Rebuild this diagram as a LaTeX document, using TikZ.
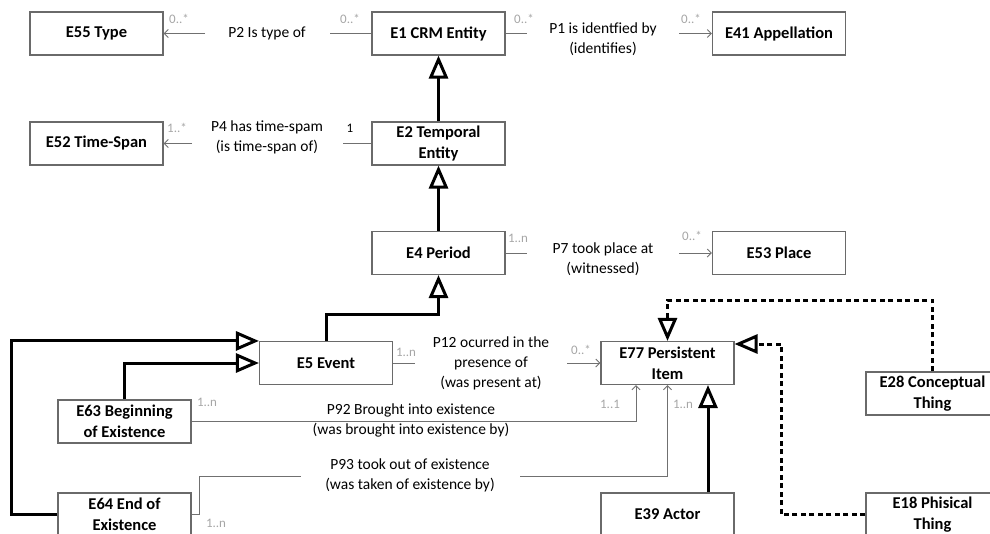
\documentclass[tikz,border=0pt]{standalone}
\usepackage{fontspec}
\setmainfont{Carlito}
\usetikzlibrary{arrows.meta}
\definecolor{boxgray}{HTML}{6A6A6A}
\definecolor{linegray}{HTML}{707070}
\definecolor{multgray}{HTML}{A6A6A6}
\tikzset{
  entity/.style={draw=boxgray, line width=1.1pt, fill=white, minimum width=133pt,
    minimum height=43pt, align=center, inner sep=1pt,
    font=\fontsize{16.5}{21}\selectfont\bfseries},
  rel/.style={align=center, inner sep=0pt, font=\fontsize{15.5}{20}\selectfont},
  mult/.style={text=multgray, inner sep=0pt, font=\fontsize{13}{14}\selectfont},
  assoc/.style={draw=linegray, line width=1pt},
  navarrow/.style={assoc, -{Straight Barb[length=4pt, width=8pt]}},
  isa/.style={line width=3pt, -{Triangle[open, length=23pt, width=19pt, fill=white]}},
  isadash/.style={isa, dash pattern=on 5pt off 3.5pt},
}
\begin{document}
\begin{tikzpicture}[x=1pt, y=-1pt]
\useasboundingbox (0,0) rectangle (990,533);
\clip (0,0) rectangle (990,533);

% entity classes
\node[entity] (e55) at (96.5,33.5)   {E55 Type};
\node[entity] (e1)  at (438.5,33.5)  {E1 CRM Entity};
\node[entity] (e41) at (779,33.5)    {E41 Appellation};
\node[entity] (e52) at (96.5,143.5)  {E52 Time-Span};
\node[entity] (e2)  at (438.5,143.5) {E2 Temporal\\Entity};
\node[entity] (e4)  at (438.5,253)   {E4 Period};
\node[entity] (e53) at (779,253)     {E53 Place};
\node[entity] (e5)  at (326,363)     {E5 Event};
\node[entity] (e63) at (124.5,421.5) {E63 Beginning\\of Existence};
\node[entity] (e64) at (124.5,514.5) {E64 End of\\Existence};
\node[entity] (e77) at (667.5,363)   {E77 Persistent\\Item};
\node[entity] (e28) at (932.5,393.5) {E28 Conceptual\\Thing};
\node[entity] (e18) at (932.5,514.5) {E18 Phisical\\Thing};
\node[entity] (e39) at (667.5,514.5) {E39 Actor};

% property labels
\node[rel] (p2)  at (267,33)    {P2 Is type of};
\node[rel] (p1)  at (603,39.5)  {P1 is identfied by\\(identifies)};
\node[rel] (p4)  at (267,137)   {P4 has time-spam\\(is time-span of)};
\node[rel] (p7)  at (603,259.5) {P7 took place at\\(witnessed)};
\node[rel] (p12) at (491,363)   {P12 ocurred in the\\presence of\\(was present at)};
\node[rel] (p92) at (411,420)   {P92 Brought into existence\\(was brought into existence by)};
\node[rel] (p93) at (410,475)   {P93 took out of existence\\(was taken of existence by)};

% ends of the association lines beside the labels
\coordinate (p2r)  at (330,33.5);
\coordinate (p2l)  at (205,33.5);
\coordinate (p1l)  at (527,33.5);
\coordinate (p1r)  at (679,33.5);
\coordinate (p4r)  at (343,143.5);
\coordinate (p4l)  at (192,143.5);
\coordinate (p7l)  at (527,253);
\coordinate (p7r)  at (679,253);
\coordinate (p12l) at (415,363);
\coordinate (p12r) at (567,363);
\coordinate (p93l) at (301,476);
\coordinate (p93r) at (520,476);

% associations
\draw[assoc] (e1.west) -- (p2r);
\draw[navarrow] (p2l) -- (e55.east);
\draw[assoc] (e1.east) -- (p1l);
\draw[navarrow] (p1r) -- (e41.west);
\draw[assoc] (e2.west) -- (p4r);
\draw[navarrow] (p4l) -- (e52.east);
\draw[assoc] (e4.east) -- (p7l);
\draw[navarrow] (p7r) -- (e53.west);
\draw[assoc] (e5.east) -- (p12l);
\draw[navarrow] (p12r) -- (e77.west);
\draw[navarrow] (e63.east) -| ([xshift=-31.5pt]e77.south);
\draw[assoc] (e64.east) -- ++(8,0) |- (p93l);
\draw[navarrow] (p93r) -| (e77.south);

% multiplicities
\node[mult] (m1)  at (179,19)  {0..*};
\node[mult] (m2)  at (350,19)  {0..*};
\node[mult] (m3)  at (524,19)  {0..*};
\node[mult] (m4)  at (691,19)  {0..*};
\node[mult] (m5)  at (177,128) {1..*};
\node[mult, text=black] (m6) at (350,128) {1};
\node[mult] (m7)  at (518,238) {1..n};
\node[mult] (m8)  at (692,236) {0..*};
\node[mult] (m9)  at (406,352) {1..n};
\node[mult] (m10) at (581,350) {0..*};
\node[mult] (m11) at (207,402) {1..n};
\node[mult] (m12) at (610,404) {1..1};
\node[mult] (m13) at (683,404) {1..n};
\node[mult] (m14) at (216,523) {1..n};

% generalisations
\draw[isa] (e2.north) -- (e1.south);
\draw[isa] (e4.north) -- (e2.south);
\draw[isa] (e5.north) -- ++(0,-26) -| (e4.south);
\draw[isa] (e63.north) |- (e5.west);
\draw[isa] (e64.west) -- ++(-46,0) |- (e5.north west);
\draw[isa] ([xshift=40.5pt]e39.north) -- ([xshift=40.5pt]e77.south);
\draw[isadash] (e28.north) -- ++(0,-71) -| (e77.north);
\draw[isadash] (e18.west) -- ++(-84,0) |- ([yshift=19pt]e77.east);
\end{tikzpicture}
\end{document}
